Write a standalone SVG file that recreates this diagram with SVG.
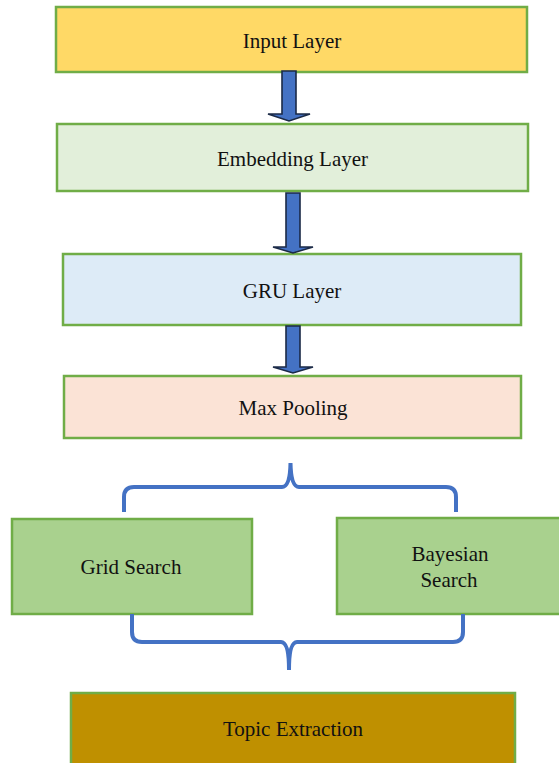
<svg xmlns="http://www.w3.org/2000/svg" width="559" height="763" viewBox="0 0 559 763">
<style>
.box{stroke:#70AD47;stroke-width:2.5}
.lbl{font-family:"Liberation Serif","Times New Roman",serif;font-size:21px;fill:#111;text-anchor:middle}
.arrow{fill:#4472C4;stroke:#1B2A47;stroke-width:1.6;stroke-linejoin:miter}
.brace{fill:none;stroke:#4472C4;stroke-width:4;stroke-linecap:butt}
</style>
<rect width="559" height="763" fill="#fff"/>
<g id="input-layer">
<rect class="box" x="56" y="7" width="471" height="65" fill="#FFD966"/>
<text class="lbl" x="292" y="48">Input Layer</text>
</g>
<g id="embedding-layer">
<rect class="box" x="57" y="124" width="471" height="67" fill="#E2EFDA"/>
<text class="lbl" x="292.5" y="166">Embedding Layer</text>
</g>
<g id="gru-layer">
<rect class="box" x="63" y="254" width="458" height="71" fill="#DDEBF7"/>
<text class="lbl" x="292" y="298">GRU Layer</text>
</g>
<g id="max-pooling">
<rect class="box" x="64" y="376" width="457" height="62" fill="#FBE3D6"/>
<text class="lbl" x="293" y="415">Max Pooling</text>
</g>
<g id="grid-search">
<rect class="box" x="12" y="519" width="240" height="95" fill="#A9D18E"/>
<text class="lbl" x="131" y="574">Grid Search</text>
</g>
<g id="bayesian-search">
<rect class="box" x="337" y="518" width="226" height="96" fill="#A9D18E"/>
<text class="lbl" x="450" y="561">Bayesian</text>
<text class="lbl" x="449" y="587">Search</text>
</g>
<g id="topic-extraction">
<rect class="box" x="71" y="693" width="444" height="72" fill="#BF9000"/>
<text class="lbl" x="293" y="736">Topic Extraction</text>
</g>
<g id="connectors">
<polygon class="arrow" points="282,71 296,71 296,114 310,114 289,121 268,114 282,114"/>
<polygon class="arrow" points="286,193 300,193 300,247 313,247 293,253 273,247 286,247"/>
<polygon class="arrow" points="286,326 300,326 300,367 313,367 293,373 273,367 286,367"/>
<path class="brace" d="M124,512 L124,497 Q124,487 134,487 L282,487 Q290,487 290.5,463 Q291,487 299,487 L446,487 Q456,487 456,497 L456,512"/>
<path class="brace" d="M132,614 L132,632 Q132,642 142,642 L281,642 Q289,642 289,670 Q289,642 297,642 L453,642 Q463,642 463,632 L463,614"/>
</g>
</svg>
